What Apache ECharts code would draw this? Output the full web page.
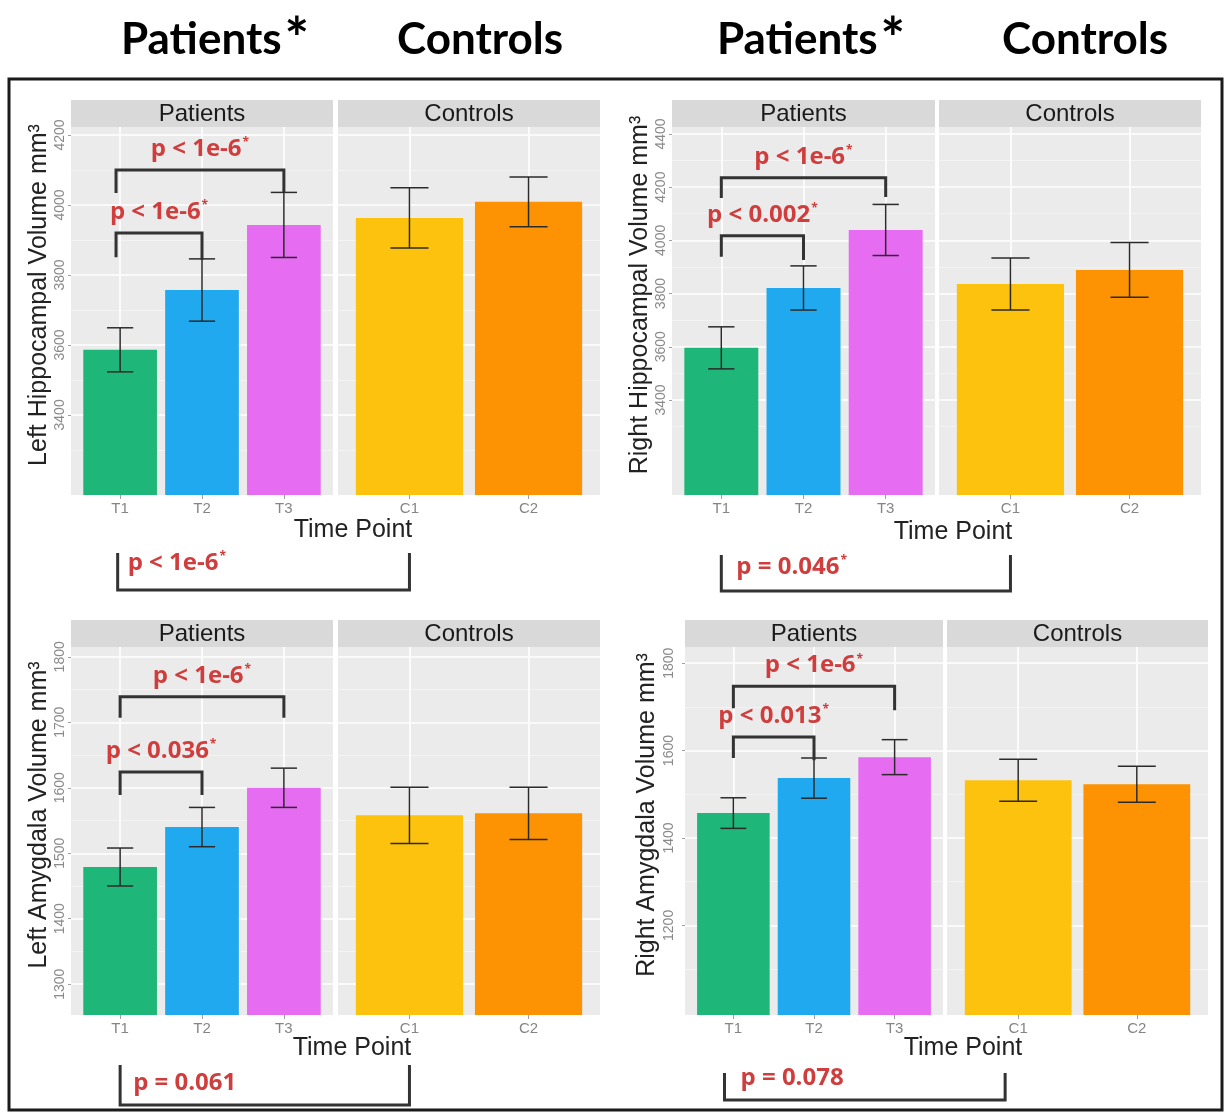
<!DOCTYPE html>
<html>
<head>
<meta charset="utf-8">
<script src="https://cdn.jsdelivr.net/npm/echarts@6/dist/echarts.min.js"></script>
<style>html,body{margin:0;padding:0;background:#fff}#main{width:1224px;height:1113px}</style>
</head>
<body>
<div id="main"></div>
<script>
// ---------------- DATA ----------------
const patientCats = ['T1', 'T2', 'T3'];
const controlCats = ['C1', 'C2'];
const groupNames = ['Patients', 'Controls'];
const headerTitles = ['Patients', 'Controls', 'Patients', 'Controls'];

// Left hippocampal volume (mm3)
const lhPatientMeans = [3586, 3757, 3943];
const lhPatientErrs = [63, 89, 93];
const lhControlMeans = [3963, 4009];
const lhControlErrs = [86, 71];
const lhTicks = [3400, 3600, 3800, 4000, 4200];
const lhMinor = [3300, 3500, 3700, 3900, 4100];
const lhLimits = [3171, 4223];
const lhBrackets = [
  {from: 0.95, to: 3, y: 4100, leftEnd: 4034, rightEnd: 4037, label: 'p < 1e-6'},
  {from: 0.95, to: 2, y: 3920, leftEnd: 3851, rightEnd: 3843, label: 'p < 1e-6'}
];
const lhGroupTest = {pX: 0.97, cX: 1, label: 'p < 1e-6', star: true};

// Right hippocampal volume (mm3)
const rhPatientMeans = [3596, 3821, 4039];
const rhPatientErrs = [79, 83, 96];
const rhControlMeans = [3836, 3889];
const rhControlErrs = [98, 103];
const rhTicks = [3400, 3600, 3800, 4000, 4200, 4400];
const rhMinor = [3300, 3500, 3700, 3900, 4100, 4300];
const rhLimits = [3043, 4426];
const rhBrackets = [
  {from: 1, to: 3, y: 4235, leftEnd: 4159, rightEnd: 4163, label: 'p < 1e-6'},
  {from: 1, to: 2, y: 4017, leftEnd: 3938, rightEnd: 3926, label: 'p < 0.002'}
];
const rhGroupTest = {pX: 1, cX: 1, label: 'p = 0.046', star: true};

// Left amygdala volume (mm3)
const laPatientMeans = [1479, 1540, 1600];
const laPatientErrs = [29, 30, 30];
const laControlMeans = [1558, 1561];
const laControlErrs = [43, 40];
const laTicks = [1300, 1400, 1500, 1600, 1700, 1800];
const laMinor = [1350, 1450, 1550, 1650, 1750];
const laLimits = [1253, 1815];
const laBrackets = [
  {from: 1, to: 3, y: 1739, leftEnd: 1707, rightEnd: 1707, label: 'p < 1e-6'},
  {from: 1, to: 2, y: 1624, leftEnd: 1589, rightEnd: 1589, label: 'p < 0.036'}
];
const laGroupTest = {pX: 1, cX: 1, label: 'p = 0.061', star: false};

// Right amygdala volume (mm3)
const raPatientMeans = [1457, 1537, 1585];
const raPatientErrs = [35, 46, 40];
const raControlMeans = [1532, 1523];
const raControlErrs = [48, 41];
const raTicks = [1200, 1400, 1600, 1800];
const raMinor = [1100, 1300, 1500, 1700];
const raLimits = [995, 1837];
const raBrackets = [
  {from: 1, to: 3, y: 1747, leftEnd: 1697, rightEnd: 1692, label: 'p < 1e-6'},
  {from: 1, to: 2, y: 1631, leftEnd: 1583, rightEnd: 1578, label: 'p < 0.013'}
];
const raGroupTest = {pX: 0.89, cX: 0.89, label: 'p = 0.078', star: false};

const panels = [
  {yTitle: 'Left Hippocampal Volume mm³', pMeans: lhPatientMeans, pErrs: lhPatientErrs, cMeans: lhControlMeans, cErrs: lhControlErrs, ticks: lhTicks, minor: lhMinor, limits: lhLimits, brackets: lhBrackets, groupTest: lhGroupTest},
  {yTitle: 'Right Hippocampal Volume mm³', pMeans: rhPatientMeans, pErrs: rhPatientErrs, cMeans: rhControlMeans, cErrs: rhControlErrs, ticks: rhTicks, minor: rhMinor, limits: rhLimits, brackets: rhBrackets, groupTest: rhGroupTest},
  {yTitle: 'Left Amygdala Volume mm³', pMeans: laPatientMeans, pErrs: laPatientErrs, cMeans: laControlMeans, cErrs: laControlErrs, ticks: laTicks, minor: laMinor, limits: laLimits, brackets: laBrackets, groupTest: laGroupTest},
  {yTitle: 'Right Amygdala Volume mm³', pMeans: raPatientMeans, pErrs: raPatientErrs, cMeans: raControlMeans, cErrs: raControlErrs, ticks: raTicks, minor: raMinor, limits: raLimits, brackets: raBrackets, groupTest: raGroupTest}
];

// ---------------- STYLE / LAYOUT ----------------
const patientColors = ['#1fb679', '#21a9ef', '#e66cf1'];
const controlColors = ['#fdc20d', '#fd9302'];
const RED = '#cf3d3d';
const FONT = '"Liberation Sans", Arial, sans-serif';
const layouts = [
  {pL: 71, pR: 333, cL: 338, cR: 600, top: 127, bottom: 495, nameGap: 19, labelMargin: 4, timeX: 353, timeY: 530, gtTop: 58, gtBottom: 95, gtDx: 10, gtTextY: 68},
  {pL: 672, pR: 935, cL: 939, cR: 1201, top: 127, bottom: 495, nameGap: 19, labelMargin: 4, timeX: 953, timeY: 532, gtTop: 60, gtBottom: 96, gtDx: 15, gtTextY: 72},
  {pL: 71, pR: 333, cL: 338, cR: 600, top: 647, bottom: 1015, nameGap: 19, labelMargin: 4, timeX: 352, timeY: 1048, gtTop: 50, gtBottom: 90, gtDx: 13, gtTextY: 68},
  {pL: 685, pR: 943, cL: 947, cR: 1208, top: 647, bottom: 1015, nameGap: 25, labelMargin: 9, timeX: 963, timeY: 1048, gtTop: 58, gtBottom: 85, gtDx: 16, gtTextY: 63}
];
const headerPos = [{x: 121, y: 40}, {x: 397, y: 40}, {x: 717, y: 40}, {x: 1002, y: 40}];

function barRenderer(colors) {
  return function (params, api) {
    const x = api.value(0), m = api.value(1), e = api.value(2);
    const cs = params.coordSys;
    const bottom = cs.y + cs.height;
    const top = api.coord([x, m]);
    const w = api.size([0.9, 0])[0];
    const cw = api.size([0.32, 0])[0];
    const hi = api.coord([x, m + e]);
    const lo = api.coord([x, m - e]);
    const st = {stroke: '#2b2b2b', lineWidth: 1.5};
    return {type: 'group', children: [
      {type: 'rect', shape: {x: top[0] - w / 2, y: top[1], width: w, height: bottom - top[1]}, style: {fill: colors[params.dataIndex]}},
      {type: 'line', shape: {x1: hi[0], y1: hi[1], x2: lo[0], y2: lo[1]}, style: st},
      {type: 'line', shape: {x1: hi[0] - cw / 2, y1: hi[1], x2: hi[0] + cw / 2, y2: hi[1]}, style: st},
      {type: 'line', shape: {x1: lo[0] - cw / 2, y1: lo[1], x2: lo[0] + cw / 2, y2: lo[1]}, style: st}
    ]};
  };
}

function labelRich(label, star, size) {
  return {
    text: '{p|' + label + '}' + (star ? '{s|*}' : ''),
    rich: {
      p: {fontSize: size, fontWeight: 'bold', fontFamily: '"Open Sans", sans-serif', fill: RED},
      s: {fontSize: Math.round(size * 0.5), fontWeight: 'bold', fontFamily: '"Open Sans", sans-serif', fill: RED, verticalAlign: 'top', padding: [0, 0, 0, 1]}
    }
  };
}

const grids = [], xAxes = [], yAxes = [], series = [], graphics = [];

panels.forEach((pd, pi) => {
  const L = layouts[pi];
  [0, 1].forEach(fi => {
    const gi = pi * 2 + fi;
    const left = fi === 0 ? L.pL : L.cL;
    const right = fi === 0 ? L.pR : L.cR;
    const cats = fi === 0 ? patientCats : controlCats;
    const idx = cats.map((c, i) => i + 1);
    grids.push({left: left, top: L.top, width: right - left, height: L.bottom - L.top, show: true, backgroundColor: '#ebebeb', borderWidth: 0});
    xAxes.push({
      type: 'value', gridIndex: gi, min: 0.4, max: cats.length + 0.6,
      axisLine: {show: false},
      axisTick: {show: true, customValues: idx, length: 4, lineStyle: {color: '#a0a0a0'}},
      axisLabel: {customValues: idx, formatter: v => cats[Math.round(v) - 1], color: '#858585', fontSize: 15, margin: 6, fontFamily: FONT},
      splitLine: {show: true, lineStyle: {color: '#ffffff', width: 1.6}}
    });
    yAxes.push({
      type: 'value', gridIndex: gi, position: 'left', min: pd.limits[0], max: pd.limits[1],
      name: fi === 0 ? pd.yTitle : '', nameLocation: 'middle', nameGap: L.nameGap,
      nameTextStyle: {fontSize: 25, color: '#222', fontFamily: FONT, padding: [0, 0, 0, 32]},
      axisLine: {show: false},
      axisTick: {show: fi === 0, customValues: pd.ticks, length: 3, lineStyle: {color: '#a0a0a0'}},
      axisLabel: {show: fi === 0, customValues: pd.ticks, formatter: v => String(Math.round(v)), rotate: 90, color: '#8a8a8a', fontSize: 14, margin: L.labelMargin, fontFamily: FONT},
      splitLine: {show: true, lineStyle: {color: '#ffffff', width: 1.6}}
    });
    yAxes.push({
      type: 'value', gridIndex: gi, position: 'right', min: pd.limits[0], max: pd.limits[1],
      axisLine: {show: false}, axisLabel: {show: false},
      axisTick: {show: false, customValues: pd.minor},
      splitLine: {show: true, lineStyle: {color: '#f5f5f5', width: 0.8}}
    });
    const means = fi === 0 ? pd.pMeans : pd.cMeans;
    const errs = fi === 0 ? pd.pErrs : pd.cErrs;
    series.push({
      type: 'custom', xAxisIndex: gi, yAxisIndex: gi * 2,
      data: means.map((m, i) => [i + 1, m, errs[i]]),
      renderItem: barRenderer(fi === 0 ? patientColors : controlColors),
      z: 2
    });
    // strips
    graphics.push({type: 'rect', shape: {x: left, y: L.top - 27, width: right - left, height: 27}, style: {fill: '#d9d9d9'}, z: 1});
    graphics.push({type: 'text', x: (left + right) / 2, y: L.top - 13, style: {text: groupNames[fi], fill: '#1a1a1a', fontSize: 24, fontFamily: FONT, align: 'center', verticalAlign: 'middle'}, z: 2});
  });
  // significance brackets among patient time points
  series.push({
    type: 'custom', xAxisIndex: pi * 2, yAxisIndex: pi * 4, clip: false, z: 5,
    data: pd.brackets.map(b => [b.from, b.to, b.y, b.leftEnd, b.rightEnd]),
    renderItem: function (params, api) {
      const b = pd.brackets[params.dataIndex];
      const a1 = api.coord([api.value(0), api.value(3)]);
      const a2 = api.coord([api.value(0), api.value(2)]);
      const b2 = api.coord([api.value(1), api.value(2)]);
      const b1 = api.coord([api.value(1), api.value(4)]);
      const t = labelRich(b.label, true, 24);
      return {type: 'group', children: [
        {type: 'polyline', shape: {points: [a1, a2, b2, b1]}, style: {stroke: '#333', lineWidth: 3, fill: 'none'}},
        {type: 'text', style: {text: t.text, rich: t.rich, x: (a2[0] + b2[0]) / 2, y: a2[1] - 21, align: 'center', verticalAlign: 'middle'}}
      ]};
    }
  });
  graphics.push({type: 'text', x: L.timeX, y: L.timeY, style: {text: 'Time Point', fill: '#222', fontSize: 25, fontFamily: FONT, align: 'center', verticalAlign: 'middle'}});
});

// outer frame
graphics.push({type: 'rect', shape: {x: 9, y: 79, width: 1213, height: 1031}, style: {fill: 'none', stroke: '#1a1a1a', lineWidth: 3}, z: 10});
// headers
headerTitles.forEach((h, i) => {
  const star = h === 'Patients';
  graphics.push({type: 'text', x: headerPos[i].x, y: headerPos[i].y, style: {
    text: '{a|' + h + '}' + (star ? '{s|*}' : ''),
    rich: {
      a: {fontSize: 44, fontWeight: 'bold', fontFamily: 'Lato, sans-serif', fill: '#000'},
      s: {fontSize: 58, fontWeight: 'bold', fontFamily: 'Lato, sans-serif', fill: '#000', verticalAlign: 'top', padding: [0, 0, 0, 3]}
    },
    align: 'left', verticalAlign: 'middle'}});
});

const chart = echarts.init(document.getElementById('main'), null, {renderer: 'canvas'});
chart.setOption({
  animation: false,
  textStyle: {fontFamily: FONT},
  grid: grids, xAxis: xAxes, yAxis: yAxes, series: series, graphic: graphics
});

// between-group brackets below the x axis
const extra = [];
panels.forEach((pd, pi) => {
  const L = layouts[pi];
  const g = pd.groupTest;
  const xa = chart.convertToPixel({xAxisIndex: pi * 2}, g.pX);
  const xb = chart.convertToPixel({xAxisIndex: pi * 2 + 1}, g.cX);
  const B = L.bottom;
  extra.push({type: 'polyline', shape: {points: [[xa, B + L.gtTop], [xa, B + L.gtBottom], [xb, B + L.gtBottom], [xb, B + L.gtTop]]}, style: {stroke: '#333', lineWidth: 3, fill: 'none'}});
  const t = labelRich(g.label, g.star, 24);
  extra.push({type: 'text', x: xa + L.gtDx, y: B + L.gtTextY, style: {text: t.text, rich: t.rich, align: 'left', verticalAlign: 'middle'}});
});
chart.setOption({graphic: graphics.concat(extra)});
</script>
</body>
</html>
